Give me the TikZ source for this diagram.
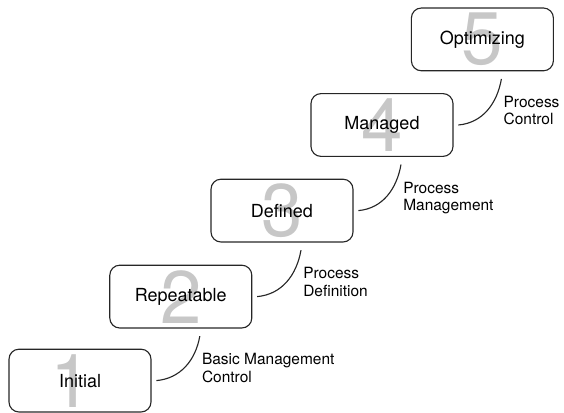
\documentclass[tikz,border=0pt]{standalone}
\usepackage{fontspec}
\setmainfont{TeX Gyre Heros}
\usetikzlibrary{positioning}

\tikzstyle{main}  = [draw=black!85, line width=0.8pt, rounded corners=2.5mm, inner sep=0pt, text centered, minimum width=3.55cm, minimum height=1.57cm, font=\fontsize{12.8}{14}\selectfont]
\tikzstyle{digit} = [text=black!22, inner sep=0pt, font=\fontsize{53}{53}\selectfont]
\tikzstyle{note}  = [inner sep=0pt, align=left, font=\fontsize{11}{12.2}\selectfont]
\tikzstyle{link}  = [draw=black!85, line width=0.8pt]

\begin{document}
\begin{tikzpicture}
    \useasboundingbox (0,0) rectangle (14.1,10.325);
    \coordinate (p1) at (2.00, 0.81);
    \coordinate (p2) at (4.52, 2.91);
    \coordinate (p3) at (7.05, 5.06);
    \coordinate (p4) at (9.55, 7.20);
    \coordinate (p5) at (12.06, 9.34);
    % big numbers behind the levels
    \draw
      node[digit, xshift=-2.3mm] (d1) at (p1) {1}
      node[digit] (d2) at (p2) {2}
      node[digit] (d3) at (p3) {3}
      node[digit] (d4) at (p4) {4}
      node[digit] (d5) at (p5) {5};
    \draw
      node[main] (s1) at (p1) {Initial}
      node[main] (s2) at (p2) {Repeatable}
      node[main] (s3) at (p3) {Defined}
      node[main] (s4) at (p4) {Managed}
      node[main] (s5) at (p5) {Optimizing};
    % links between levels
    \coordinate (c1) at ([xshift=4.75mm, yshift=-1.9mm]s2.south);
    \coordinate (c2) at ([xshift=4.75mm, yshift=-1.9mm]s3.south);
    \coordinate (c3) at ([xshift=4.75mm, yshift=-1.9mm]s4.south);
    \coordinate (c4) at ([xshift=4.75mm, yshift=-1.9mm]s5.south);
    \draw[link] ([xshift=1.2mm]s1.east) to[out=5, in=-100] (c1);
    \draw[link] ([xshift=1.2mm]s2.east) to[out=5, in=-100] (c2);
    \draw[link] ([xshift=1.2mm]s3.east) to[out=5, in=-100] (c3);
    \draw[link] ([xshift=1.2mm]s4.east) to[out=5, in=-100] (c4);
    \node[note, below right=4.3mm and 0.5mm of c1] (n1) {Basic Management\\Control};
    \node[note, below right=4.3mm and 0.5mm of c2] (n2) {Process\\Definition};
    \node[note, below right=4.3mm and 0.5mm of c3] (n3) {Process\\Management};
    \node[note, below right=4.3mm and 0.5mm of c4] (n4) {Process\\Control};
\end{tikzpicture}
\end{document}
